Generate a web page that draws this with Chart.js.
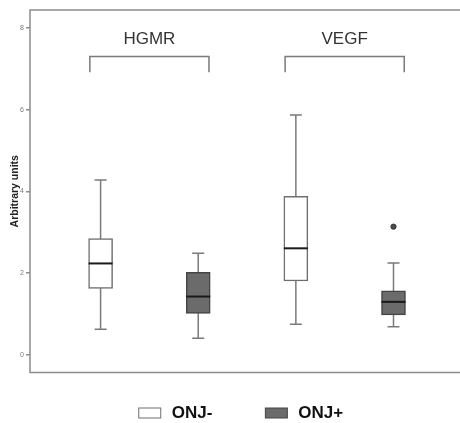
<!DOCTYPE html>
<html>
<head>
<meta charset="utf-8">
<script src="https://cdn.jsdelivr.net/npm/chart.js"></script>
<style>
  html, body { margin: 0; padding: 0; background: #fff; overflow: hidden; }
  .wrap { width: 460px; height: 423px; }
</style>
</head>
<body>
<div class="wrap"><canvas id="boxChart" width="460" height="423"></canvas></div>
<script>
// groups shown above the brackets, and the two series in the legend
const categories = ['HGMR', 'VEGF'];
const seriesLabels = ['ONJ-', 'ONJ+'];

// five-number summaries per category: [min, q1, median, q3, max]
const onjMinus = [[0.63, 1.63, 2.24, 2.85, 4.28], [0.75, 1.81, 2.61, 3.88, 5.87]];
const onjPlus = [[0.41, 1.02, 1.43, 2.02, 2.49], [0.69, 0.98, 1.30, 1.57, 2.25]];
const onjPlusOutliers = [[], [3.14]];

const yTicks = [0, 2, 4, 6, 8];

// x position of a box: each category holds the two series side by side
function boxX(catIndex, seriesIndex) {
  return catIndex * 2 + seriesIndex + 1;
}

const series = [
  { label: seriesLabels[0], stats: onjMinus, fill: '#ffffff', border: '#6e6e6e' },
  { label: seriesLabels[1], stats: onjPlus, fill: '#6b6b6b', border: '#454545' }
];

const FONT = "'Liberation Sans', Arial, sans-serif";

const boxExtras = {
  id: 'boxExtras',
  beforeDatasetsDraw(chart) {
    const { ctx, chartArea: a, scales: { x, y } } = chart;
    ctx.save();
    // frame (right side runs off the picture)
    ctx.strokeStyle = '#8c8c8c';
    ctx.lineWidth = 1.5;
    ctx.beginPath();
    ctx.moveTo(chart.width + 2, a.top);
    ctx.lineTo(a.left, a.top);
    ctx.lineTo(a.left, a.bottom);
    ctx.lineTo(chart.width + 2, a.bottom);
    ctx.stroke();

    // whiskers and caps
    ctx.strokeStyle = '#7a7a7a';
    ctx.lineWidth = 1.5;
    series.forEach((s, si) => {
      s.stats.forEach((st, ci) => {
        const px = x.getPixelForValue(boxX(ci, si));
        const yMin = y.getPixelForValue(st[0]);
        const yMax = y.getPixelForValue(st[4]);
        ctx.beginPath();
        ctx.moveTo(px, yMin);
        ctx.lineTo(px, yMax);
        ctx.moveTo(px - 6, yMin);
        ctx.lineTo(px + 6, yMin);
        ctx.moveTo(px - 6, yMax);
        ctx.lineTo(px + 6, yMax);
        ctx.stroke();
      });
    });
    ctx.restore();
  },
  afterDatasetsDraw(chart) {
    const { ctx, scales: { x, y } } = chart;
    ctx.save();
    // medians
    ctx.strokeStyle = '#1a1a1a';
    ctx.lineWidth = 2;
    series.forEach((s, si) => {
      const meta = chart.getDatasetMeta(si);
      s.stats.forEach((st, ci) => {
        const bar = meta.data[ci];
        const half = bar.width / 2;
        const py = y.getPixelForValue(st[2]);
        ctx.beginPath();
        ctx.moveTo(bar.x - half, py);
        ctx.lineTo(bar.x + half, py);
        ctx.stroke();
      });
    });

    // brackets with the category names above them
    categories.forEach((name, ci) => {
      const mid = (boxX(ci, 0) + boxX(ci, 1)) / 2;
      const x1 = x.getPixelForValue(mid - 0.61);
      const x2 = x.getPixelForValue(mid + 0.61);
      const top = y.getPixelForValue(7.3);
      const leg = y.getPixelForValue(6.92);
      ctx.strokeStyle = '#7a7a7a';
      ctx.lineWidth = 1.5;
      ctx.beginPath();
      ctx.moveTo(x1, leg);
      ctx.lineTo(x1, top);
      ctx.lineTo(x2, top);
      ctx.lineTo(x2, leg);
      ctx.stroke();
      ctx.fillStyle = '#333';
      ctx.font = '17px ' + FONT;
      ctx.textAlign = 'center';
      ctx.textBaseline = 'middle';
      ctx.fillText(name, x.getPixelForValue(mid), y.getPixelForValue(7.73));
    });
    ctx.restore();
  },
  afterDraw(chart) {
    // legend under the plot
    const { ctx } = chart;
    ctx.save();
    ctx.font = 'bold 17px ' + FONT;
    ctx.textBaseline = 'middle';
    ctx.textAlign = 'left';
    const boxW = 22, boxH = 10, gap = 11, spacing = 53, cy = 413;
    const widths = series.map((s) => boxW + gap + ctx.measureText(s.label).width);
    let cursor = chart.width / 2 + 11 - (widths[0] + widths[1] + spacing) / 2;
    series.forEach((s, i) => {
      ctx.fillStyle = s.fill;
      ctx.strokeStyle = s.border;
      ctx.lineWidth = 1;
      ctx.fillRect(cursor, cy - boxH / 2, boxW, boxH);
      ctx.strokeRect(cursor, cy - boxH / 2, boxW, boxH);
      ctx.fillStyle = '#111';
      ctx.fillText(s.label, cursor + boxW + gap, cy);
      cursor += widths[i] + spacing;
    });
    ctx.restore();
  }
};

const datasets = series.map((s, si) => ({
  label: s.label,
  data: s.stats.map((st, ci) => ({ x: boxX(ci, si), y: [st[1], st[3]] })),
  backgroundColor: s.fill,
  borderColor: s.border,
  borderWidth: 1.5,
  borderSkipped: false,
  barThickness: 24,
  grouped: false
}));

datasets.push({
  type: 'scatter',
  label: 'outliers',
  data: onjPlusOutliers.flatMap((vals, ci) => vals.map((v) => ({ x: boxX(ci, 1), y: v }))),
  backgroundColor: '#4a4a4a',
  borderColor: '#333',
  borderWidth: 1,
  pointRadius: 2.6
});

new Chart(document.getElementById('boxChart'), {
  type: 'bar',
  data: { datasets },
  options: {
    responsive: false,
    animation: false,
    devicePixelRatio: 1,
    layout: { padding: { top: 10, right: 0, bottom: 0, left: 0 } },
    plugins: {
      legend: { display: false },
      tooltip: { enabled: false }
    },
    scales: {
      x: {
        type: 'linear',
        offset: false,
        min: 0.277,
        max: 4.63,
        ticks: { display: false },
        grid: { display: false, offset: false },
        border: { display: false },
        afterFit: (scale) => { scale.height = 50.5; }
      },
      y: {
        min: -0.428,
        max: 8.44,
        afterBuildTicks: (scale) => { scale.ticks = yTicks.map((v) => ({ value: v })); },
        ticks: {
          font: { family: FONT, size: 7 },
          color: '#777',
          padding: 2
        },
        grid: {
          drawOnChartArea: false,
          drawTicks: true,
          tickLength: 4,
          color: '#8c8c8c',
          lineWidth: 1.5
        },
        border: { display: false },
        title: {
          display: true,
          text: 'Arbitrary units',
          font: { family: FONT, size: 10.5, weight: 'bold' },
          color: '#222',
          padding: { top: 9, bottom: 0 }
        },
        afterFit: (scale) => { scale.width = 30; }
      }
    }
  },
  plugins: [boxExtras]
});
</script>
</body>
</html>
